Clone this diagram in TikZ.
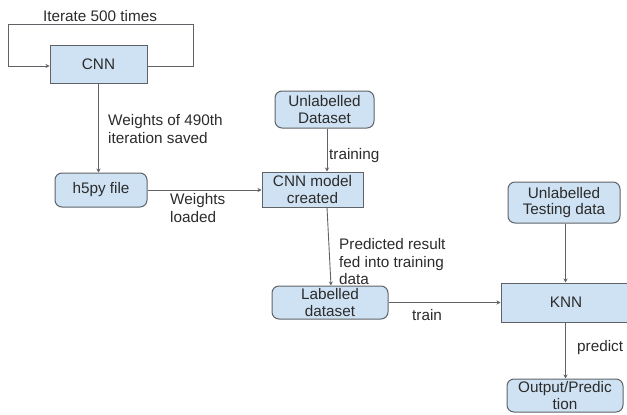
\documentclass[tikz,border=0pt]{standalone}
\usepackage{fontspec}
\setmainfont{Liberation Sans}
\usetikzlibrary{arrows.meta}
\definecolor{boxfill}{HTML}{CFE2F3}
\definecolor{boxline}{HTML}{5F6368}
\definecolor{txt}{HTML}{2B2B2B}
\begin{document}
\begin{tikzpicture}[x=1pt,y=-1pt,
  every node/.style={font=\fontsize{15.3}{18}\selectfont, text=txt},
  sqbox/.style={draw=boxline, line width=1pt, fill=boxfill, inner sep=0pt, align=center, font=\fontsize{15.3}{16.5}\selectfont},
  rbox/.style={sqbox, rounded corners=7pt},
  lbl/.style={inner sep=0pt, align=left, anchor=west},
  arr/.style={draw=boxline, line width=0.9pt, -{Stealth[length=4pt,width=4pt]}},
  ln/.style={draw=boxline, line width=0.9pt}]
\useasboundingbox (0,0) rectangle (627,415);
% nodes
\node[sqbox, minimum width=97pt, minimum height=38pt] (cnn) at (98.5,64) {CNN};
\node[rbox, minimum width=92pt, minimum height=34pt] (h5) at (101,190) {h5py file};
\node[rbox, minimum width=99pt, minimum height=37pt] (ud) at (324.5,109.5) {Unlabelled\\Dataset};
\node[sqbox, minimum width=101pt, minimum height=35pt] (cm) at (312.5,189.5) {CNN model\\created};
\node[rbox, minimum width=116pt, minimum height=33pt] (lab) at (330,302.5) {Labelled\\dataset};
\node[rbox, minimum width=112pt, minimum height=41pt] (utd) at (564,202.5) {Unlabelled\\Testing data};
\node[sqbox, minimum width=130pt, minimum height=39pt] (knn) at (566,302.5) {KNN};
\node[rbox, minimum width=116pt, minimum height=33pt] (out) at (565,395.5) {Output/Predic\\tion};
% loop
\coordinate (lr1) at (193,66);
\coordinate (lr2) at (193,24);
\coordinate (ll1) at (8,24);
\coordinate (ll2) at (8,66);
\draw[arr] (cnn.east |- lr1) -- (lr1) -- (lr2) -- (ll1) -- (ll2) -- (cnn.west |- ll2);
\node[inner sep=0pt] (iter) at (100,16) {Iterate 500 times};
% connectors
\draw[arr] (cnn.south) -- (h5.north -| cnn.south);
\node[lbl] (w490) at (108,129) {Weights of 490th\\iteration saved};
\draw[arr] (h5.east) -- (cm.west |- h5.east);
\node[lbl] (wl) at (170,208) {Weights\\loaded};
\coordinate (udx) at (327,0);
\draw[arr] (ud.south -| udx) -- (cm.north -| udx);
\node[lbl] (tr) at (329,156) {training};
\draw[arr] (cm.south -| udx) -- ([xshift=1pt]lab.north);
\node[lbl, font=\fontsize{15.3}{17.5}\selectfont] (pred) at (339,262) {Predicted result\\fed into training\\data};
\draw[arr] (lab.east) -- (knn.west |- lab.east);
\node[lbl] (trn) at (412,315) {train};
\coordinate (kx) at (565.5,0);
\draw[arr] (utd.south -| kx) -- (knn.north -| kx);
\draw[arr] (knn.south -| kx) -- (out.north -| kx);
\node[lbl] (prd) at (577,348) {predict};
\end{tikzpicture}
\end{document}
